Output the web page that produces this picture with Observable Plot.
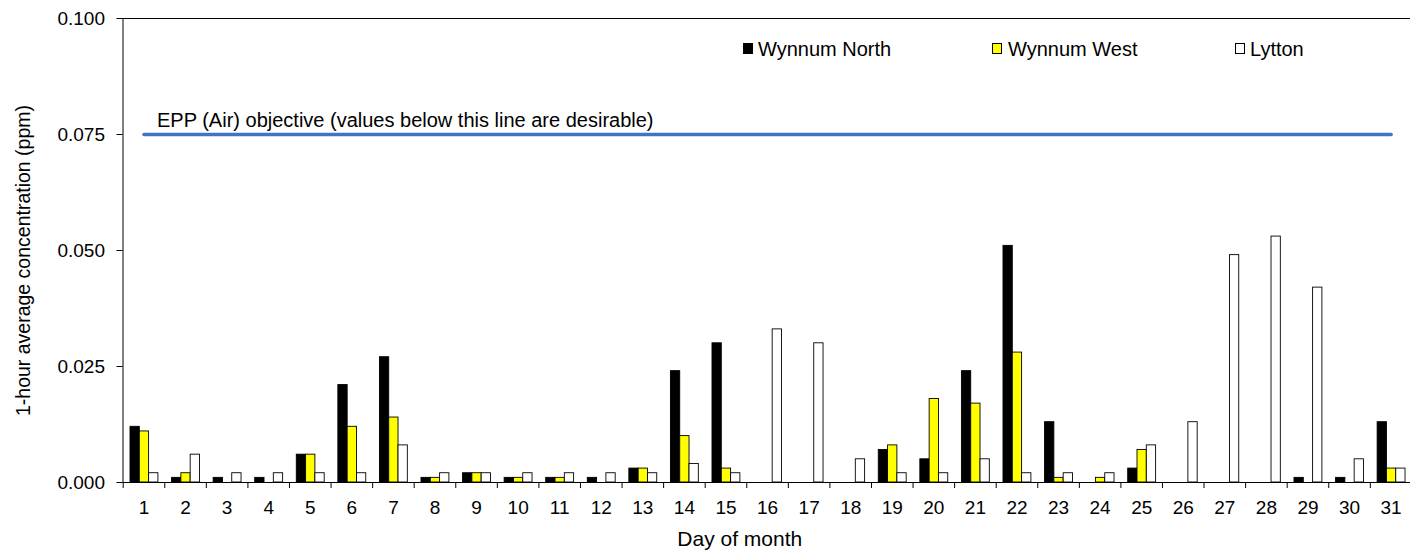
<!DOCTYPE html>
<html>
<head>
<meta charset="utf-8">
<script src="https://cdn.jsdelivr.net/npm/d3@7"></script>
<script src="https://cdn.jsdelivr.net/npm/@observablehq/plot@0.6"></script>
<style>
  html, body { margin: 0; padding: 0; background: #fff; }
  #wrap { position: relative; width: 1410px; height: 551px; font-family: "Liberation Sans", Arial, sans-serif; }
  .leg { position: absolute; font-size: 20px; line-height: 20px; color: #000; white-space: nowrap; }
  .box { position: absolute; width: 10px; height: 11px; box-sizing: border-box; border: 1px solid #000; }
</style>
</head>
<body>
<div id="wrap"></div>
<script>
// ---- data ----
const days = d3.range(1, 32);
const wynnumNorth = [0.012, 0.001, 0.001, 0.001, 0.006, 0.021, 0.027, 0.001, 0.002, 0.001,
                     0.001, 0.001, 0.003, 0.024, 0.030, null, null, null, 0.007, 0.005,
                     0.024, 0.051, 0.013, null, 0.003, null, null, null, 0.001, 0.001, 0.013];
const wynnumWest  = [0.011, 0.002, null, null, 0.006, 0.012, 0.014, 0.001, 0.002, 0.001,
                     0.001, null, 0.003, 0.010, 0.003, null, null, null, 0.008, 0.018,
                     0.017, 0.028, 0.001, 0.001, 0.007, null, null, null, null, null, 0.003];
const lytton      = [0.002, 0.006, 0.002, 0.002, 0.002, 0.002, 0.008, 0.002, 0.002, 0.002,
                     0.002, 0.002, 0.002, 0.004, 0.002, 0.033, 0.030, 0.005, 0.002, 0.002,
                     0.005, 0.002, 0.002, 0.002, 0.008, 0.013, 0.049, 0.053, 0.042, 0.005, 0.003];
const seriesNames = ["Wynnum North", "Wynnum West", "Lytton"];
const seriesFills = ["#000000", "#FFFF00", "#FFFFFF"];
const objective = 0.075;
const objectiveLabel = "EPP (Air) objective (values below this line are desirable)";
const yTicks = [0, 0.025, 0.05, 0.075, 0.1];
const yTitle = "1-hour average concentration (ppm)";
const xTitle = "Day of month";

// ---- layout ----
const X0 = 122.7, X1 = 1411.4;
const bw = (X1 - X0) / days.length;
const barW = 9.3, groupLeft = 7.3;
const seriesValues = [wynnumNorth, wynnumWest, lytton];

const bars = seriesValues.map((vals, i) =>
  Plot.barY(days, {
    x: days, y: vals,
    fill: seriesFills[i], stroke: "#000", strokeWidth: 0.9,
    insetLeft: groupLeft + i * barW,
    insetRight: bw - groupLeft - (i + 1) * barW
  })
);

const chart = Plot.plot({
  width: 1410, height: 551,
  marginLeft: 122.5, marginRight: 0, marginTop: 18, marginBottom: 69,
  style: { fontFamily: "Liberation Sans, Arial, sans-serif", fontSize: "19px", color: "#000", background: "#fff" },
  x: { type: "band", domain: days, range: [X0, X1], padding: 0, round: false, axis: null },
  y: { domain: [0, 0.1], axis: null },
  marks: [
    ...bars,
    Plot.lineY(days, { x: days, y: days.map(() => objective), stroke: "#4472C4", strokeWidth: 3.5 }),
    Plot.text([objectiveLabel], { x: [days[0]], y: [objective], text: d => d, dx: 13, dy: -7.5,
      textAnchor: "start", lineAnchor: "bottom", fontSize: 20, fill: "#000" }),
    Plot.ruleY([0], { stroke: "#000", strokeWidth: 1 }),
    Plot.ruleY([0.1], { stroke: "#000", strokeWidth: 1 }),
    Plot.frame({ anchor: "left", stroke: "#000", strokeWidth: 1 }),
    Plot.axisY({ ticks: yTicks, tickFormat: d3.format(".3f"), tickSize: 6, tickPadding: 12,
      label: null, fontSize: 19, stroke: "#000", strokeOpacity: 1 }),
    Plot.axisX({ ticks: days, tickSize: 0, tickPadding: 18, label: null, fontSize: 19 }),
    Plot.axisX({ ticks: days, tickSize: 6, text: null, label: null, dx: -bw / 2, stroke: "#000", strokeOpacity: 1 }),
    Plot.text([yTitle], { frameAnchor: "left", text: d => d, rotate: -90, dx: -99.5, dy: 10,
      textAnchor: "middle", lineAnchor: "middle", fontSize: 19.5, fill: "#000" }),
    Plot.text([xTitle], { frameAnchor: "bottom", text: d => d, dx: -27, dy: 63,
      textAnchor: "middle", lineAnchor: "bottom", fontSize: 21, fill: "#000" })
  ]
});

const wrap = document.getElementById("wrap");
wrap.appendChild(chart);

// legend overlay
const legendPos = [
  { box: 743, text: 758 },
  { box: 992, text: 1008 },
  { box: 1235, text: 1250 }
];
seriesNames.forEach((name, i) => {
  const b = document.createElement("div");
  b.className = "box";
  b.style.left = legendPos[i].box + "px";
  b.style.top = "43px";
  b.style.background = seriesFills[i];
  wrap.appendChild(b);
  const t = document.createElement("div");
  t.className = "leg";
  t.style.left = legendPos[i].text + "px";
  t.style.top = "39px";
  t.textContent = name;
  wrap.appendChild(t);
});
chart.style.position = "absolute";
chart.style.left = "0";
chart.style.top = "0";
</script>
</body>
</html>
